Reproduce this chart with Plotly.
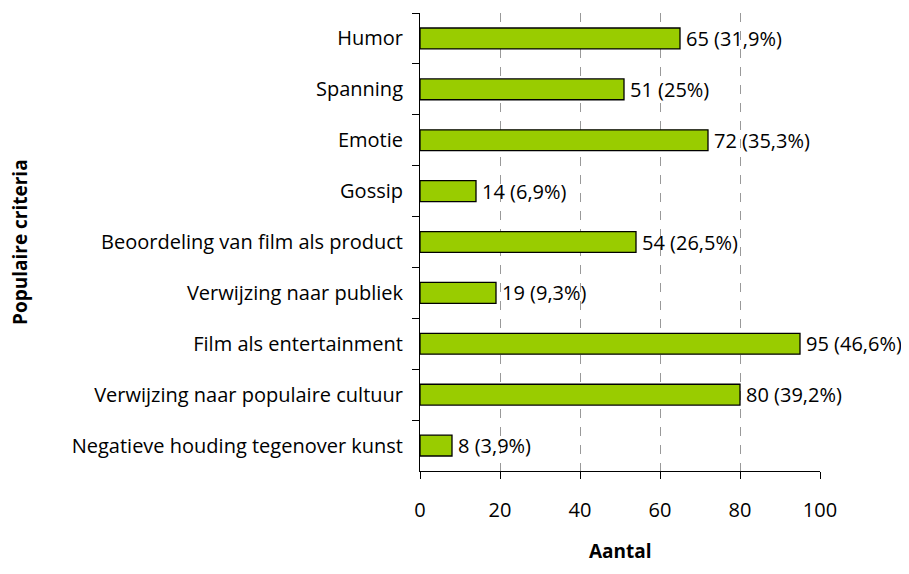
import plotly.graph_objects as go

categories = ["Humor", "Spanning", "Emotie", "Gossip", "Beoordeling van film als product",
              "Verwijzing naar publiek", "Film als entertainment",
              "Verwijzing naar populaire cultuur", "Negatieve houding tegenover kunst"]
counts = [65, 51, 72, 14, 54, 19, 95, 80, 8]
labels = ["65 (31,9%)", "51 (25%)", "72 (35,3%)", "14 (6,9%)", "54 (26,5%)",
          "19 (9,3%)", "95 (46,6%)", "80 (39,2%)", "8 (3,9%)"]
x_ticks = [0, 20, 40, 60, 80, 100]

FONT = "Open Sans"
FS = 20

fig = go.Figure(go.Bar(
    y=categories, x=counts, orientation="h",
    marker=dict(color="#99CC00", line=dict(color="#000000", width=1.3)),
    width=0.41,
))

for c, v, t in zip(categories, counts, labels):
    fig.add_annotation(x=v, y=c, text=t, showarrow=False, xanchor="left",
                       xshift=4, font=dict(family=FONT, size=FS, color="#000000"))

fig.add_annotation(xref="paper", yref="paper", x=-1.0, y=0.5, text="<b>Populaire criteria</b>",
                   textangle=-90, showarrow=False, xanchor="center", yanchor="middle",
                   font=dict(family=FONT, size=19, color="#000000"))
fig.add_annotation(xref="paper", yref="paper", x=0.5, y=-0.175, text="<b>Aantal</b>",
                   showarrow=False, xanchor="center", yanchor="middle",
                   font=dict(family=FONT, size=19, color="#000000"))

# page body has an 8px offset; margins compensate so the plot lands where the reference has it
fig.update_layout(
    width=909, height=574,
    margin=dict(l=412, r=97, t=5, b=111),
    plot_bgcolor="white", paper_bgcolor="white",
    showlegend=False,
    font=dict(family=FONT, size=FS, color="#000000"),
    xaxis=dict(
        range=[0, 100], tickvals=x_ticks, ticks="outside", ticklen=7,
        tickcolor="#000000", showline=True, linecolor="#000000", linewidth=1,
        showgrid=True, gridcolor="#999999", griddash="dash", gridwidth=1,
        zeroline=False, ticklabelstandoff=14, automargin=False,
    ),
    yaxis=dict(
        categoryorder="array", categoryarray=categories, autorange="reversed",
        ticks="outside", ticklen=7, tickcolor="#000000", tickson="boundaries",
        showline=True, linecolor="#000000", linewidth=1, showgrid=False,
        ticklabelstandoff=12, automargin=False,
    ),
)

fig.write_html("out.html")
